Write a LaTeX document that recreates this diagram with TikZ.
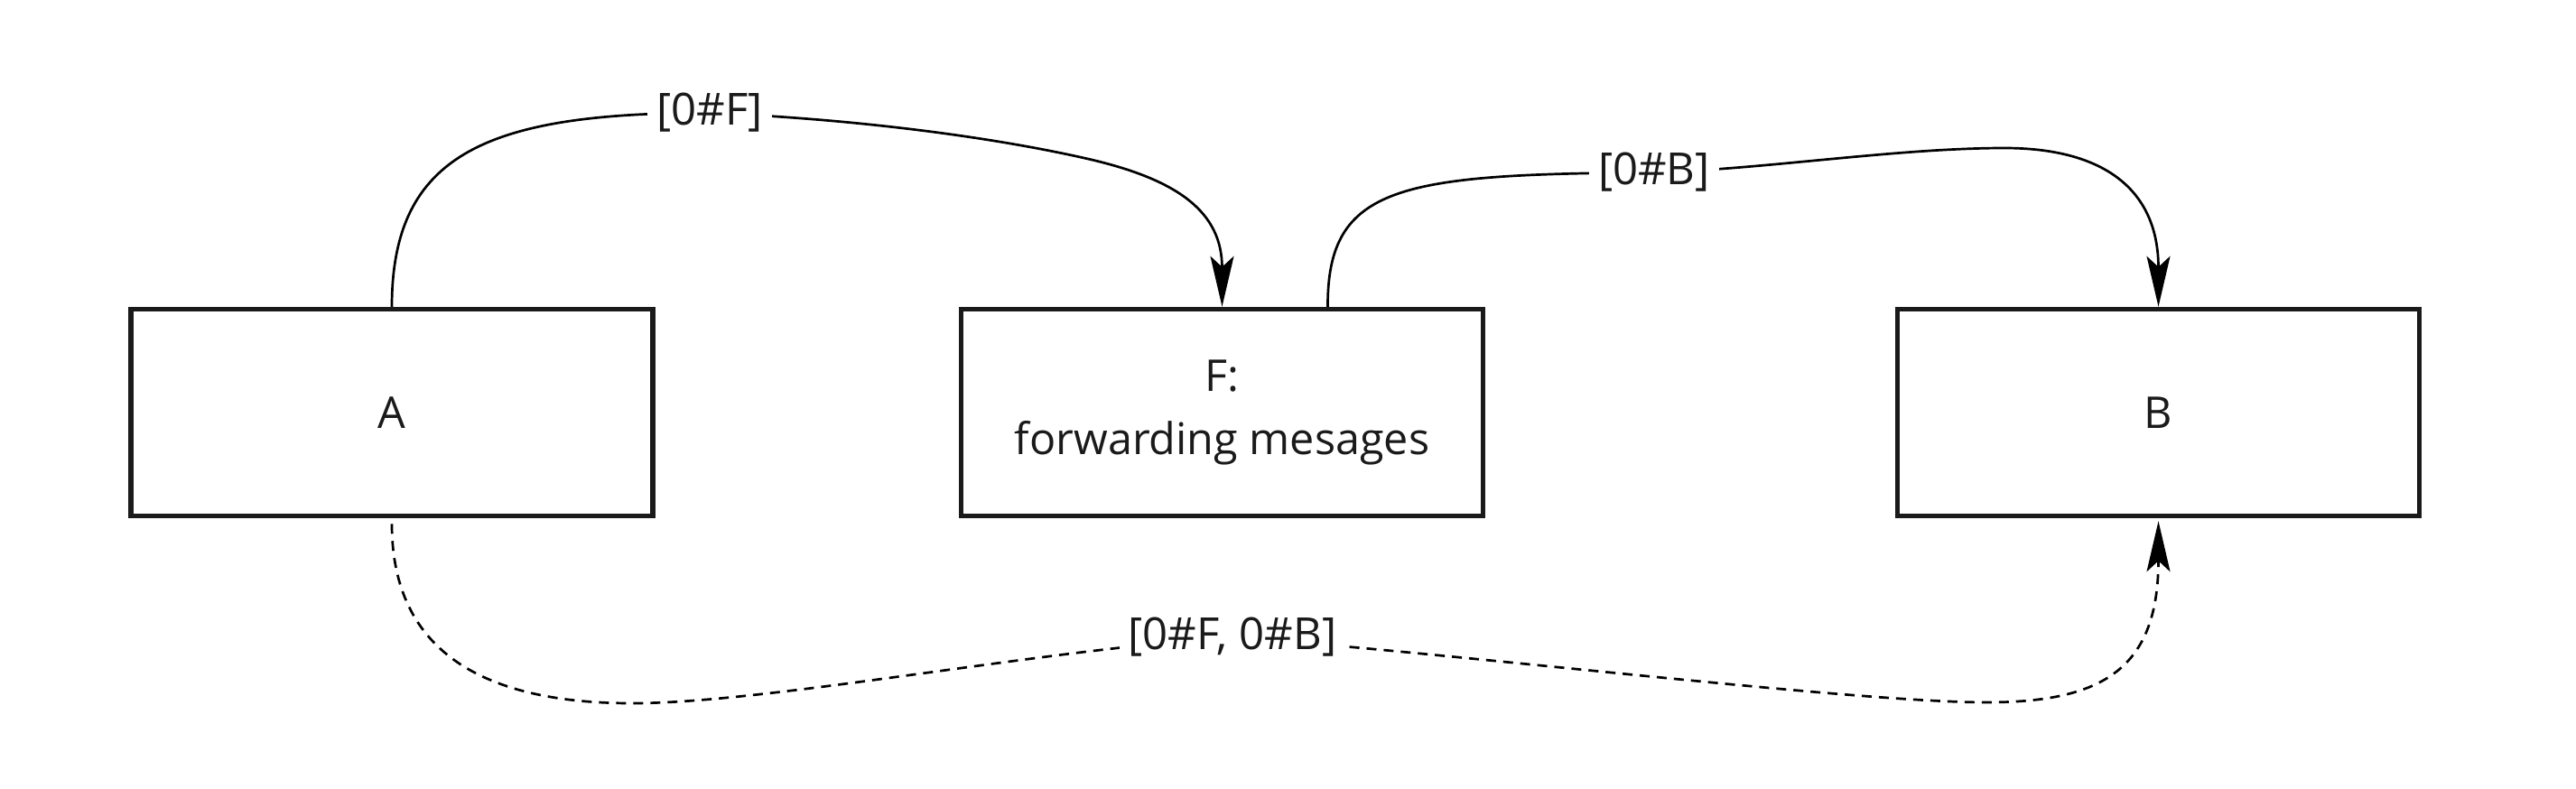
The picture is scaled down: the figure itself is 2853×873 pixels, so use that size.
\documentclass[tikz,border=0pt]{standalone}
\usepackage{fontspec}
\setmainfont{Open Sans}
\usetikzlibrary{arrows.meta}
\definecolor{ink}{HTML}{1A1A1A}
\tikzset{
  box/.style={draw=ink, line width=5.5pt, minimum width=578pt, minimum height=229pt, inner sep=0pt, align=center, text=ink, font=\fontsize{48.5}{70}\selectfont},
  conn/.style={draw=black, line width=2.7pt},
  tip/.style={-{Stealth[length=56pt,width=26pt,inset=12pt]}},
  lbl/.style={fill=white, inner sep=10pt, text=ink, font=\fontsize{49}{60}\selectfont},
  dashline/.style={dash pattern=on 11pt off 8pt}
}
\begin{document}
\begin{tikzpicture}[x=1pt,y=-1pt]
\useasboundingbox (0,0) rectangle (2853,873);
\node[box] (A) at (434,457) {A};
\node[box] (F) at (1353.5,457) {F:\\forwarding mesages};
\node[box] (B) at (2390.5,457) {B};

\coordinate (s1) at (A.north);
\coordinate (e1) at (F.north);
\coordinate (s2) at ([xshift=117pt]F.north);
\coordinate (e2) at (B.north);
\coordinate (s3) at ([yshift=-6pt]A.south);
\coordinate (e3) at ([yshift=-3pt]B.south);

\coordinate (m1) at (786,125);
\coordinate (m2) at (1832,191);
\coordinate (m3) at (1365,706);

% A -> F
\draw[conn, tip] (s1) .. controls (434,170) and (540,125) .. (m1)
  .. controls (950,132) and (1100,152) .. (1205,176)
  .. controls (1305,199) and (1353.5,235) .. (e1);
\node[lbl] (l1) at (m1) {[0\#F]};

% F -> B
\draw[conn, tip] (s2) .. controls (1470,205) and (1550,193) .. (m2)
  .. controls (1950,188) and (2100,164) .. (2220,164)
  .. controls (2330,164) and (2390.5,210) .. (e2);
\node[lbl] (l2) at (m2) {[0\#B]};

% A -> B dashed
\draw[conn, tip, dashline] (s3) .. controls (434,725) and (540,779) .. (700,779)
  .. controls (850,779) and (1150,720) .. (m3)
  .. controls (1600,722) and (2050,778) .. (2200,778)
  .. controls (2330,778) and (2390.5,740) .. (e3);
\node[lbl] (l3) at (m3) {[0\#F, 0\#B]};
\end{tikzpicture}
\end{document}
